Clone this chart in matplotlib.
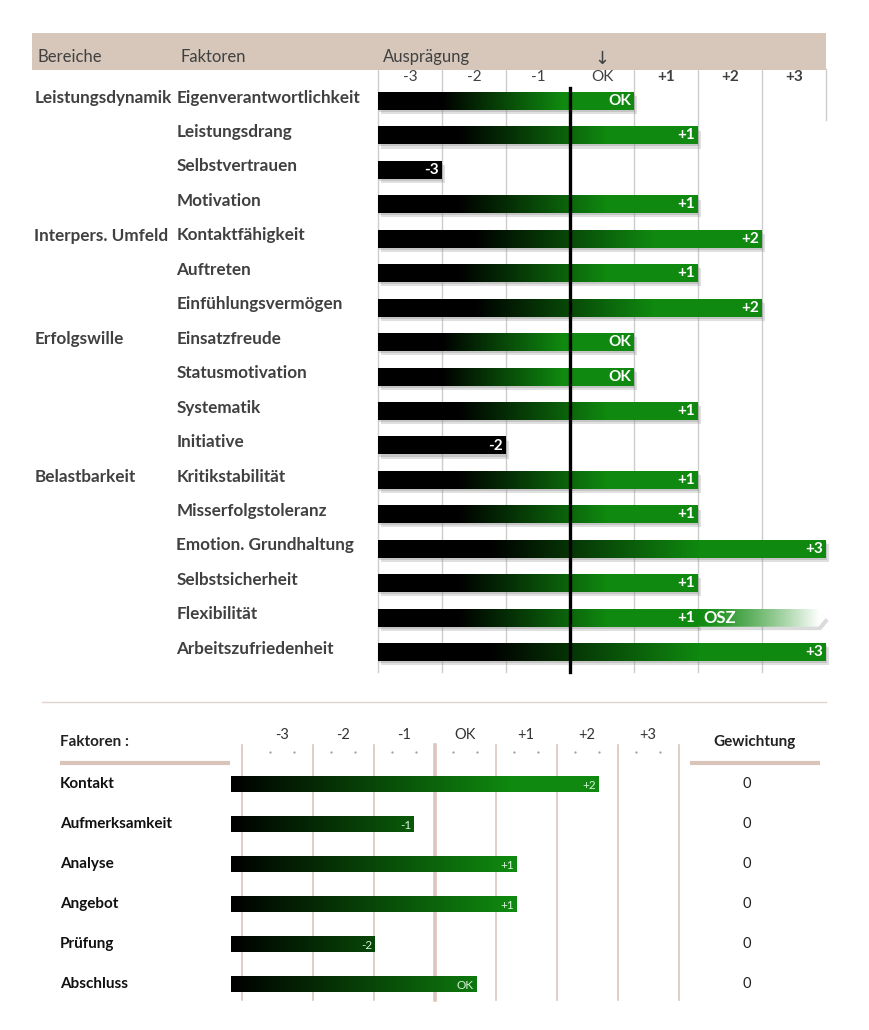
import numpy as np
import matplotlib.pyplot as plt
from matplotlib.patches import Rectangle, Polygon

# --- Daten oberes Profil ---
bereiche = ['Leistungsdynamik', 'Interpers. Umfeld', 'Erfolgswille', 'Belastbarkeit']
bereich_zeile = [0, 4, 7, 11]
faktoren = ['Eigenverantwortlichkeit', 'Leistungsdrang', 'Selbstvertrauen', 'Motivation',
            'Kontaktfähigkeit', 'Auftreten', 'Einfühlungsvermögen', 'Einsatzfreude',
            'Statusmotivation', 'Systematik', 'Initiative', 'Kritikstabilität',
            'Misserfolgstoleranz', 'Emotion. Grundhaltung', 'Selbstsicherheit',
            'Flexibilität', 'Arbeitszufriedenheit']
werte = [0, 1, -3, 1, 2, 1, 2, 0, 0, 1, -2, 1, 1, 3, 1, 1, 3]
osz = ['', '', '', '', '', '', '', '', '', '', '', '', '', '', '', 'OSZ', '']
skala = ['-3', '-2', '-1', 'OK', '+1', '+2', '+3']

# --- Daten unteres Profil ---
faktoren2 = ['Kontakt', 'Aufmerksamkeit', 'Analyse', 'Angebot', 'Prüfung', 'Abschluss']
werte2 = ['+2', '-1', '+1', '+1', '-2', 'OK']
balken2 = [2.18, -0.84, 0.84, 0.84, -1.48, 0.18]
gewichtung = [0, 0, 0, 0, 0, 0]
skala2 = ['-3', '-2', '-1', 'OK', '+1', '+2', '+3']

TXT = '#404040'
BEIGE = '#d6c7ba'
GRUEN = np.array([0.06, 0.54, 0.06])
FONT = 'Lato'


def label(w):
    return 'OK' if w == 0 else '%+d' % w


fig = plt.figure(figsize=(8.69, 10.30), dpi=100)
fig.patch.set_facecolor('white')

# ================= oberes Diagramm =================
ax = fig.add_axes([0, 1 - 690 / 1030, 1, 690 / 1030])
ax.set_xlim(-378 / 64, (869 - 378) / 64)
ax.set_ylim((690 - 101) / 34.45, -101 / 34.45)
ax.axis('off')

ax.add_patch(Rectangle((-5.41, -1.96), 12.41, 1.05, color=BEIGE, lw=0, zorder=0))
ax.text(-5.32, -1.28, 'Bereiche', ha='left', va='center', fontsize=12, color=TXT, family=FONT)
ax.text(-3.08, -1.28, 'Faktoren', ha='left', va='center', fontsize=12, color=TXT, family=FONT)
ax.text(0.08, -1.28, 'Ausprägung', ha='left', va='center', fontsize=12, color=TXT, family=FONT)
ax.text(3.5, -1.22, '↓', ha='center', va='center', fontsize=13, color=TXT, family='DejaVu Sans')

for k, s in enumerate(skala):
    ax.text(k + 0.5, -0.69, s, ha='center', va='center', fontsize=11, color=TXT,
            family=FONT, fontweight='bold' if s.startswith('+') else 'normal')

n = len(faktoren)
for k in [0, 1, 2, 4, 5, 6]:
    ax.plot([k, k], [-0.93, n - 0.43], color='#cccccc', lw=1, zorder=1)
ax.plot([7, 7], [-0.93, 0.55], color='#cccccc', lw=1, zorder=1)
ax.plot([3, 3], [-0.38, n - 0.43], color='black', lw=2.4, zorder=6)

for b, z in zip(bereiche, bereich_zeile):
    ax.text(-5.37, z - 0.08, b, ha='left', va='center', fontsize=12.3, fontweight='bold',
            color=TXT, family=FONT)

h = 0.52
for i, (f, w) in enumerate(zip(faktoren, werte)):
    ax.text(-3.15, i - 0.1, f, ha='left', va='center', fontsize=12.3, fontweight='bold',
            color=TXT, family=FONT)
    L = w + 4
    xs = np.linspace(0, L, 400)
    t = np.clip((xs / L - 0.25) / 0.47, 0, 1) * np.clip((L - 2) / 2, 0, 1)
    img = (t[:, None] * GRUEN[None, :])[None, :, :]
    ax.add_patch(Rectangle((0.05, i - h / 2 + 0.12), L, h, color='#999999', alpha=0.3,
                           lw=0, zorder=2))
    ax.add_patch(Rectangle((0.02, i - h / 2 + 0.06), L, h, color='#888888', alpha=0.3,
                           lw=0, zorder=2))
    ax.imshow(img, extent=[0, L, i + h / 2, i - h / 2], aspect='auto', zorder=3,
              interpolation='bilinear')
    if osz[i]:
        x2 = np.linspace(0, 1, 300)
        ext = np.ones((1, 300, 3))
        for c in range(3):
            ext[0, :, c] = GRUEN[c] + (1 - GRUEN[c]) * np.clip(x2 * 1.05, 0, 1) ** 1.3
        poly = Polygon([(L, i - h / 2), (6.88, i - h / 2), (7.0, i), (6.88, i + h / 2),
                        (L, i + h / 2)], closed=True, fc='none', ec='none')
        ax.add_patch(poly)
        shadow = Polygon([(L, i - h / 2 + 0.1), (6.92, i - h / 2 + 0.1), (7.04, i + 0.1),
                          (6.92, i + h / 2 + 0.1), (L, i + h / 2 + 0.1)], closed=True,
                         fc='#888888', alpha=0.3, ec='none', zorder=2)
        ax.add_patch(shadow)
        im = ax.imshow(ext, extent=[L, 7.0, i + h / 2, i - h / 2], aspect='auto', zorder=3,
                       interpolation='bilinear')
        im.set_clip_path(poly)
        ax.text(L + 0.08, i, osz[i], ha='left', va='center', fontsize=12, fontweight='bold',
                color='white', family=FONT, zorder=7)
    ax.text(L - 0.05, i, label(w), ha='right', va='center', fontsize=11, fontweight='bold',
            color='white', family=FONT, zorder=7)

ax.set_xlim(-378 / 64, (869 - 378) / 64)
ax.set_ylim((690 - 101) / 34.45, -101 / 34.45)

# ================= unteres Diagramm =================
bx = fig.add_axes([0, 0, 1, 340 / 1030])
bx.set_xlim(-465 / 61, (869 - 465) / 61)
bx.set_ylim(6.15, -2.35)
bx.axis('off')

bx.plot([-6.93, 5.92], [-2.05, -2.05], color='#e0d4cc', lw=1)
bx.text(-6.64, -1.05, 'Faktoren :', ha='left', va='center', fontsize=11, fontweight='bold',
        color='#222222', family=FONT)
bx.text(4.75, -1.05, 'Gewichtung', ha='center', va='center', fontsize=11, fontweight='bold',
        color='#222222', family=FONT)
for k, s in enumerate(skala2):
    bx.text(k - 3, -1.23, s, ha='center', va='center', fontsize=10.5, color='#333333',
            family=FONT)
    bx.plot([k - 3.2, k - 2.8], [-0.8, -0.8], ls='none', marker='.', ms=1.2, color='#999999')

bx.plot([-6.64, -3.86], [-0.53, -0.53], color='#d9c4b9', lw=3, solid_capstyle='butt')
bx.plot([3.69, 5.82], [-0.53, -0.53], color='#d9c4b9', lw=3, solid_capstyle='butt')
for g in [-3.65, -2.5, -1.5, -0.5, 0.5, 1.5, 2.5, 3.5]:
    bx.plot([g, g], [-0.97, 5.4], color='#dcc6bc', lw=2.6 if g == -0.5 else 1.2, zorder=1)

start = -3.84
h2 = 0.4
for j, (f, e, lab, gw) in enumerate(zip(faktoren2, balken2, werte2, gewichtung)):
    bx.text(-6.64, j, f, ha='left', va='center', fontsize=11, fontweight='bold',
            color='#111111', family=FONT)
    xs = np.linspace(start, e, 400)
    t = np.clip((xs - start) / 4.6, 0, 1)
    img = (t[:, None] * GRUEN[None, :])[None, :, :]
    bx.imshow(np.clip(img, 0, 1), extent=[start, e, j + h2 / 2, j - h2 / 2], aspect='auto',
              zorder=3, interpolation='bilinear')
    bx.text(e - 0.04, j + 0.03, lab, ha='right', va='center', fontsize=8.5,
            color='#d8f2d8', family=FONT, zorder=5)
    bx.text(4.62, j, str(gw), ha='center', va='center', fontsize=10.5, color='#222222',
            family=FONT)

bx.set_xlim(-465 / 61, (869 - 465) / 61)
bx.set_ylim(6.15, -2.35)

fig.savefig('out.png', dpi=100, facecolor='white')
